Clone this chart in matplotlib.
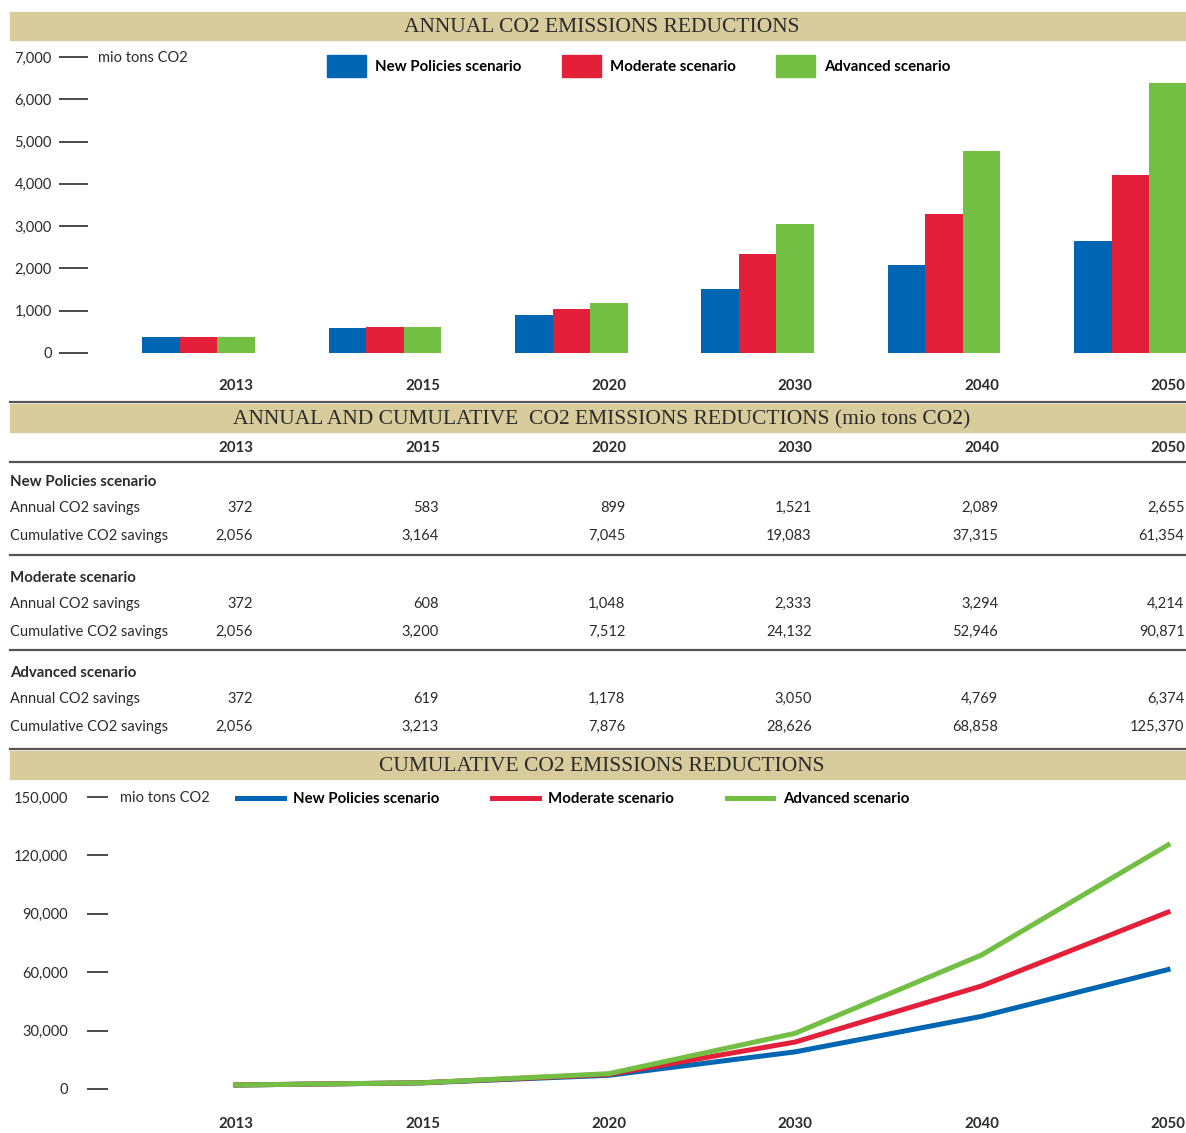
import numpy as np
import matplotlib
matplotlib.use("Agg")
import matplotlib.pyplot as plt
from matplotlib.patches import Patch, Rectangle
from matplotlib.lines import Line2D
from matplotlib import transforms

# datos
years = ["2013", "2015", "2020", "2030", "2040", "2050"]
scenarios = ["New Policies scenario", "Moderate scenario", "Advanced scenario"]

annual_np = [372, 583, 899, 1521, 2089, 2655]
annual_mod = [372, 608, 1048, 2333, 3294, 4214]
annual_adv = [372, 619, 1178, 3050, 4769, 6374]

cum_np = [2056, 3164, 7045, 19083, 37315, 61354]
cum_mod = [2056, 3200, 7512, 24132, 52946, 90871]
cum_adv = [2056, 3213, 7876, 28626, 68858, 125370]

bar_ticks = [0, 1000, 2000, 3000, 4000, 5000, 6000, 7000]
line_ticks = [0, 30000, 60000, 90000, 120000, 150000]

blue = "#0066b3"
red = "#e31f3a"
green = "#72bf44"
tan = "#d8cc9c"
dark = "#2b2b2b"

plt.rcParams['font.family'] = ['Lato', 'DejaVu Sans']
serif = ['Liberation Serif', 'DejaVu Serif']
fs = 10.5    # texto normal
fsb = 10.8   # texto en negrita

W, H = 1186, 1133
fig = plt.figure(figsize=(W / 100, H / 100), dpi=100)


def box(x0, y0, x1, y1):
    return [x0 / W, 1 - y1 / H, (x1 - x0) / W, (y1 - y0) / H]


def fy(y):
    return 1 - y / H


x = np.arange(len(years))
step = 186.4

# ---- grafico de barras ----
ax1 = fig.add_axes(box(88, 57, 1186, 353))
w = 37.5 / step
ax1.bar(x - 2 * w, annual_np, w, color=blue, label=scenarios[0])
ax1.bar(x - w, annual_mod, w, color=red, label=scenarios[1])
ax1.bar(x, annual_adv, w, color=green, label=scenarios[2])
ax1.set_xlim(-(236 - 88) / step, 5 + (1186 - 1168) / step)
ax1.set_ylim(0, 7000)
ax1.set_yticks(bar_ticks)
ax1.set_yticklabels([f"{t:,}" for t in bar_ticks], fontsize=fs, color=dark)
ax1.set_xticks(x)
ax1.set_xticklabels(years, fontsize=fsb, fontweight='bold', color=dark)
ax1.tick_params(axis='y', length=21, width=1.2, pad=5, color=dark)
ax1.tick_params(axis='x', length=0, pad=19)
for s in ax1.spines.values():
    s.set_visible(False)
fig.text(98 / W, fy(58), "mio tons CO2", fontsize=fs, color=dark, va='center')

h1 = [Patch(color=c) for c in (blue, red, green)]
ax1.legend(h1, scenarios, loc='center left', bbox_to_anchor=(327 / W, fy(66)),
           bbox_transform=fig.transFigure, ncol=3, frameon=False,
           prop={'size': fsb, 'weight': 'bold'}, handlelength=2.6,
           handleheight=1.85, handletextpad=0.6, columnspacing=2.7,
           borderpad=0, borderaxespad=0)

# ---- grafico de lineas ----
ax2 = fig.add_axes(box(108, 797, 1186, 1089))
ax2.plot(x, cum_np, color=blue, lw=3.6)
ax2.plot(x, cum_mod, color=red, lw=3.6)
ax2.plot(x, cum_adv, color=green, lw=3.6)
ax2.set_xlim(-(236 - 108) / step, 5 + (1186 - 1168) / step)
ax2.set_ylim(0, 150000)
ax2.set_yticks(line_ticks)
ax2.set_yticklabels([f"{t:,}" for t in line_ticks], fontsize=fs, color=dark)
ax2.set_xticks(x)
ax2.set_xticklabels(years, fontsize=fsb, fontweight='bold', color=dark)
ax2.tick_params(axis='y', length=15, width=1.2, pad=14, color=dark)
ax2.tick_params(axis='x', length=0, pad=20)
for s in ax2.spines.values():
    s.set_visible(False)
fig.text(120 / W, fy(798), "mio tons CO2", fontsize=fs, color=dark, va='center')

h2 = [Line2D([], [], color=c, lw=3.6) for c in (blue, red, green)]
ax2.legend(h2, scenarios, loc='center left', bbox_to_anchor=(237 / W, fy(799)),
           bbox_transform=fig.transFigure, ncol=3, frameon=False,
           prop={'size': fsb, 'weight': 'bold'}, handlelength=3.1,
           handletextpad=0.65, columnspacing=3.5, borderpad=0, borderaxespad=0)

# ---- bandas de titulo y lineas ----
bands = [(12, 40, "ANNUAL CO2 EMISSIONS REDUCTIONS"),
         (404, 432, "ANNUAL AND CUMULATIVE  CO2 EMISSIONS REDUCTIONS (mio tons CO2)"),
         (751, 779, "CUMULATIVE CO2 EMISSIONS REDUCTIONS")]
for y0, y1, txt in bands:
    fig.patches.append(Rectangle((10 / W, fy(y1)), 1176 / W, (y1 - y0) / H,
                                 transform=fig.transFigure, color=tan, zorder=0))
    fig.text(602 / W, fy((y0 + y1) / 2 + 1.5), txt, family=serif, fontsize=15.5,
             color=dark, ha='center', va='center')

for y in (402, 462, 555, 650, 749):
    fig.add_artist(Line2D([10 / W, 1], [fy(y), fy(y)], color="#555555", lw=1.6,
                          transform=fig.transFigure))

# ---- tabla ----
tr = transforms.blended_transform_factory(ax1.transData, fig.transFigure)
for i, yr in enumerate(years):
    fig.text(i, fy(448), yr, transform=tr, fontsize=fsb, fontweight='bold',
             color=dark, ha='center', va='center')

table = [(scenarios[0], annual_np, cum_np, 482),
         (scenarios[1], annual_mod, cum_mod, 578),
         (scenarios[2], annual_adv, cum_adv, 673)]
off = 16.5 / step
for name, ann, cum, y in table:
    fig.text(10 / W, fy(y), name, fontsize=fsb, fontweight='bold', color=dark, va='center')
    fig.text(10 / W, fy(y + 26), "Annual CO2 savings", fontsize=fs, color=dark, va='center')
    fig.text(10 / W, fy(y + 54), "Cumulative CO2 savings", fontsize=fs, color=dark, va='center')
    for i in range(len(years)):
        fig.text(i + off, fy(y + 26), f"{ann[i]:,}", transform=tr, fontsize=fs,
                 color=dark, ha='right', va='center')
        fig.text(i + off, fy(y + 54), f"{cum[i]:,}", transform=tr, fontsize=fs,
                 color=dark, ha='right', va='center')

fig.savefig("out.png", dpi=100, facecolor='white')
